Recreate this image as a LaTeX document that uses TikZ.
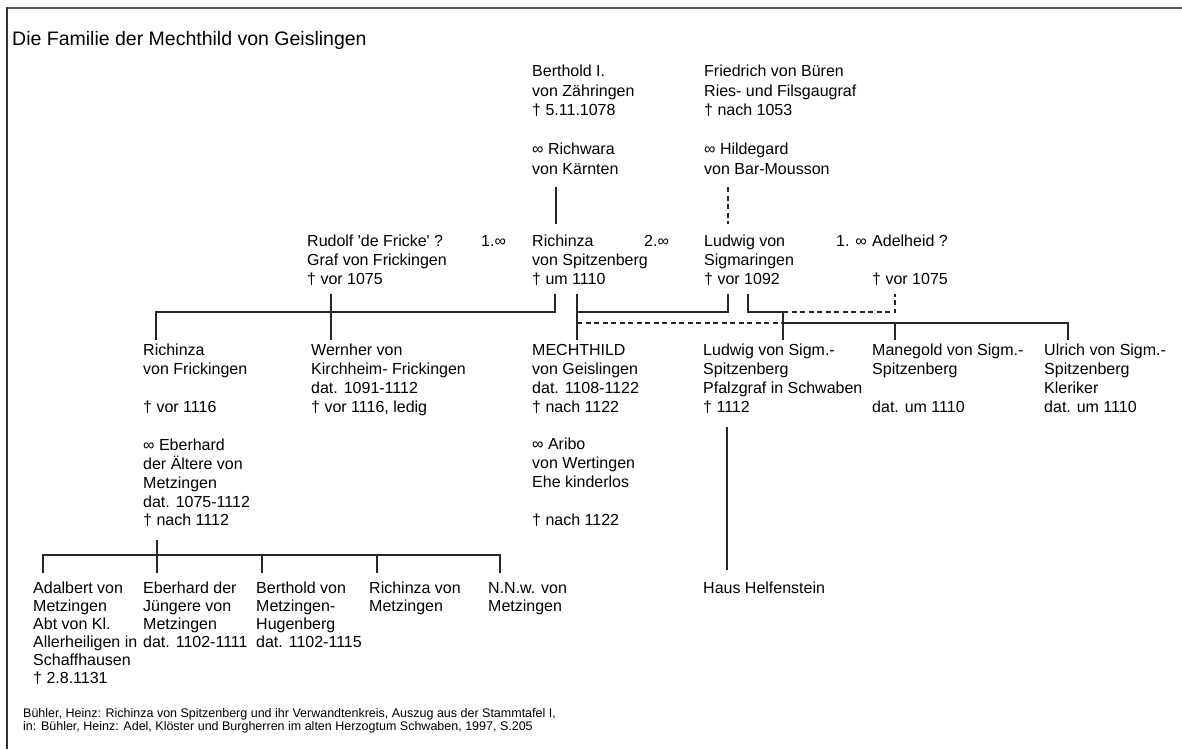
\documentclass[tikz,border=0pt]{standalone}
\usepackage{fontspec}
\setmainfont{Liberation Sans}[Ligatures=TeXOff]

\tikzset{%
    person/.style={anchor=north west, inner sep=0, align=left,
        font=\fontsize{16}{18.9}\selectfont},
    elder/.style={person, font=\fontsize{16}{19.5}\selectfont},
    kid/.style={person, font=\fontsize{16}{18}\selectfont},
    family/.style={line width=1.2pt, black!85},
    uncertain/.style={family, dash pattern=on 5pt off 3.5pt}
}

\begin{document}
\begin{tikzpicture}[x=1pt, y=-1pt]
    \useasboundingbox (0, 0) rectangle (1182, 749);

    % Frame
    \draw[black!65, line width=2.5pt] (6, 8) -- (1182, 8);
    \draw[black!80, line width=2.5pt] (7, 7) -- (7, 749);

    % Title
    \node[anchor=north west, inner sep=0, font=\fontsize{19.5}{24}\selectfont]
        (title) at (12, 31) {Die Familie der Mechthild von Geislingen};

    % Grandparents
    \node[elder] (berthold) at (532, 65)
        {Berthold I.\\von Zähringen\\† 5.11.1078\\[19.5pt]∞ Richwara\\von Kärnten};
    \node[elder] (friedrich) at (704, 65)
        {Friedrich von Büren\\Ries- und Filsgaugraf\\† nach 1053\\[19.5pt]∞ Hildegard\\von Bar-Mousson};

    % Parents
    \node[person] (rudolf) at (307, 235)
        {Rudolf 'de Fricke' ?\\Graf von Frickingen\\† vor 1075};
    \node[person] (mar1) at (481, 235) {1.∞};
    \node[person] (richinza) at (532, 235)
        {Richinza\\von Spitzenberg\\† um 1110};
    \node[person] (mar2) at (644, 235) {2.∞};
    \node[person] (ludwig) at (704, 235)
        {Ludwig von\\Sigmaringen\\† vor 1092};
    \node[person] (mar3) at (836, 235) {1. ∞};
    \node[person] (adelheid) at (872, 235) {Adelheid ?\\[18.9pt]† vor 1075};

    % Children
    \node[person] (richinzaF) at (143, 344)
        {Richinza\\von Frickingen\\[18.9pt]† vor 1116\\[18.9pt]∞ Eberhard\\der Ältere von\\Metzingen\\dat. 1075-1112\\† nach 1112};
    \node[person] (wernher) at (311, 344)
        {Wernher von\\Kirchheim- Frickingen\\dat. 1091-1112\\† vor 1116, ledig};
    \node[person] (mechthild) at (532, 344)
        {MECHTHILD\\von Geislingen\\dat. 1108-1122\\† nach 1122\\[18.9pt]∞ Aribo\\von Wertingen\\Ehe kinderlos\\[18.9pt]† nach 1122};
    \node[person] (ludwigS) at (703, 344)
        {Ludwig von Sigm.-\\Spitzenberg\\Pfalzgraf in Schwaben\\† 1112};
    \node[person] (manegold) at (872, 344)
        {Manegold von Sigm.-\\Spitzenberg\\[18.9pt]dat. um 1110};
    \node[person] (ulrich) at (1044, 344)
        {Ulrich von Sigm.-\\Spitzenberg\\Kleriker\\dat. um 1110};

    % Grandchildren
    \node[kid] (adalbert) at (33, 582)
        {Adalbert von\\Metzingen\\Abt von Kl.\\Allerheiligen in\\Schaffhausen\\† 2.8.1131};
    \node[kid] (eberhardJ) at (143, 582)
        {Eberhard der\\Jüngere von\\Metzingen\\dat. 1102-1111};
    \node[kid] (bertholdM) at (256, 582)
        {Berthold von\\Metzingen-\\Hugenberg\\dat. 1102-1115};
    \node[kid] (richinzaM) at (369, 582) {Richinza von\\Metzingen};
    \node[kid] (nnw) at (488, 582) {N.N.w. von\\Metzingen};
    \node[kid] (helfenstein) at (703, 582) {Haus Helfenstein};

    % Source
    \node[anchor=north west, inner sep=0, align=left,
        font=\fontsize{12.5}{13.5}\selectfont] (source) at (23, 708)
        {Bühler, Heinz: Richinza von Spitzenberg und ihr Verwandtenkreis, Auszug aus der Stammtafel I,\\in: Bühler, Heinz: Adel, Klöster und Burgherren im alten Herzogtum Schwaben, 1997, S.205};

    % Descent of the grandparents
    \draw[family] ([shift={(24, 122)}]berthold.north west)
        -- ([shift={(24, -11)}]richinza.north west);
    \draw[uncertain] ([shift={(24, 122)}]friedrich.north west)
        -- ([shift={(24, -11)}]ludwig.north west);

    % First marriage of Richinza
    \draw[family] ([shift={(23, 59)}]richinza.north west)
        |- ([shift={(13, -32)}]richinzaF.north west)
        -- ([shift={(13, -4)}]richinzaF.north west);
    \draw[family] ([shift={(24, 59)}]rudolf.north west)
        -- ([shift={(20, -4)}]wernher.north west);

    % Second marriage of Richinza
    \draw[family] ([shift={(45, 59)}]richinza.north west)
        -- ([shift={(45, -4)}]mechthild.north west);
    \draw[family] ([shift={(45, 77)}]richinza.north west)
        -| ([shift={(24, 59)}]ludwig.north west);
    \draw[uncertain] ([shift={(45, -21)}]mechthild.north west)
        -- ([shift={(80, -21)}]ludwigS.north west);

    % Marriage of Ludwig and Adelheid
    \draw[family] ([shift={(44, 59)}]ludwig.north west)
        |- ([shift={(80, -32)}]ludwigS.north west)
        -- ([shift={(80, -4)}]ludwigS.north west);
    \draw[uncertain] ([shift={(80, -32)}]ludwigS.north west)
        -| ([shift={(23, 59)}]adelheid.north west);
    \draw[family] ([shift={(80, -21)}]ludwigS.north west)
        -| ([shift={(23, -4)}]manegold.north west);
    \draw[family] ([shift={(23, -21)}]manegold.north west)
        -| ([shift={(24, -4)}]ulrich.north west);

    \draw[family] ([shift={(24, 83)}]ludwigS.north west)
        -- ([shift={(24, -12)}]helfenstein.north west);

    % Children of Richinza von Frickingen
    \draw[family] ([shift={(14, 196)}]richinzaF.north west)
        -- ([shift={(14, -27)}]eberhardJ.north west);
    \draw[family] ([shift={(10, -9)}]adalbert.north west)
        |- ([shift={(12, -27)}]nnw.north west)
        -- ([shift={(12, -9)}]nnw.north west);
    \foreach \kid/\dx in {eberhardJ/14, bertholdM/6, richinzaM/8}{%
        \draw[family] ([shift={(\dx, -27)}]\kid.north west)
            -- ([shift={(\dx, -9)}]\kid.north west);
    };

\end{tikzpicture}
\end{document}
